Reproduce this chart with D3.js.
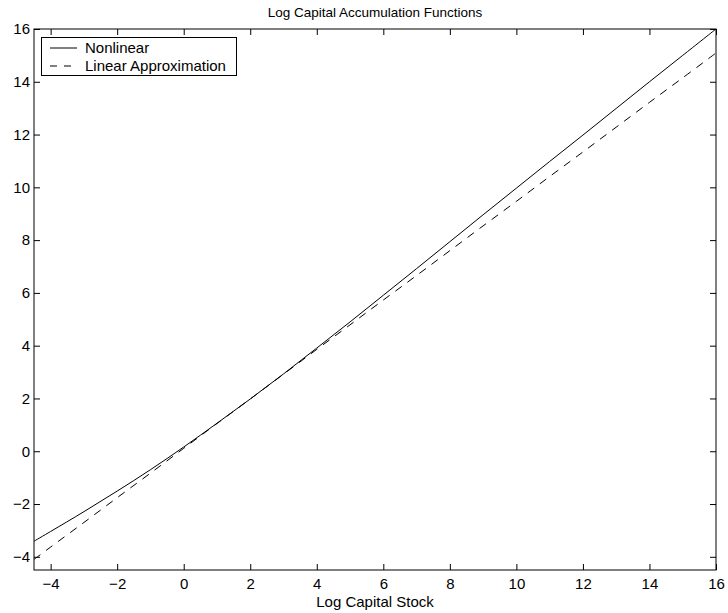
<!DOCTYPE html>
<html>
<head>
<meta charset="utf-8">
<script src="https://cdn.jsdelivr.net/npm/d3@7"></script>
<style>
  html, body { margin: 0; padding: 0; background: #fff; }
  svg { display: block; font-family: "Liberation Sans", Arial, Helvetica, sans-serif; }
</style>
</head>
<body>
<svg id="chart" width="728" height="613"></svg>
<script>
// ---- data ----
const logCapital = [-4.5, -4, -3, -2, -1, 0, 1, 2, 3, 4, 5, 6, 7, 8, 9, 10, 11, 12, 13, 14, 15, 16];
const nonlinear  = [-3.41, -3.04, -2.29, -1.51, -0.70, 0.16, 1.06, 1.98, 2.93, 3.91, 4.90, 5.91, 6.92, 7.94, 8.96, 9.97, 10.98, 11.98, 12.99, 14.00, 15.00, 16.00];
const linearApprox = [-4.10, -3.63, -2.70, -1.76, -0.83, 0.11, 1.05, 1.98, 2.92, 3.86, 4.79, 5.73, 6.66, 7.60, 8.54, 9.47, 10.41, 11.34, 12.28, 13.22, 14.15, 15.09];
const xTicks = [-4, -2, 0, 2, 4, 6, 8, 10, 12, 14, 16];
const yTicks = [-4, -2, 0, 2, 4, 6, 8, 10, 12, 14, 16];
const seriesNames = ["Nonlinear", "Linear Approximation"];
const titleText = "Log Capital Accumulation Functions";
const xLabelText = "Log Capital Stock";

// ---- layout ----
const svg = d3.select("#chart");
const L = 34, R = 716, T = 29, B = 570;
const x = d3.scaleLinear().domain([-4.5, 16]).range([L, R]);
const y = d3.scaleLinear().domain([-4.5, 16]).range([B, T]);
const tickLen = 6;
const fmt = d => d < 0 ? "\u2212" + Math.abs(d) : String(d);
const FONT = '"Liberation Sans", Arial, Helvetica, sans-serif';

// axes (ticks inward)
const gx = svg.append("g").attr("transform", `translate(0,${B})`)
  .call(d3.axisBottom(x).tickValues(xTicks).tickSizeInner(-tickLen).tickSizeOuter(0).tickPadding(8).tickFormat(fmt));
const gxt = svg.append("g").attr("transform", `translate(0,${T})`)
  .call(d3.axisTop(x).tickValues(xTicks).tickSizeInner(-tickLen).tickSizeOuter(0).tickFormat(""));
const gy = svg.append("g").attr("transform", `translate(${L},0)`)
  .call(d3.axisLeft(y).tickValues(yTicks).tickSizeInner(-tickLen).tickSizeOuter(0).tickPadding(4).tickFormat(fmt));
const gyr = svg.append("g").attr("transform", `translate(${R},0)`)
  .call(d3.axisRight(y).tickValues(yTicks).tickSizeInner(-tickLen).tickSizeOuter(0).tickFormat(""));
[gx, gxt, gy, gyr].forEach(g => {
  g.select(".domain").remove();
  g.selectAll(".tick line").attr("stroke", "#000").attr("stroke-width", 1);
  g.selectAll("text").attr("fill", "#000").style("font-size", "15px").style("font-family", FONT);
});

// lines
const lineGen = vals => d3.line()
  .x((d, i) => x(logCapital[i]))
  .y(d => y(d))
  .curve(d3.curveCatmullRom.alpha(0.5))(vals);

svg.append("clipPath").attr("id", "clip")
  .append("rect").attr("x", L).attr("y", T).attr("width", R - L).attr("height", B - T);

svg.append("path").attr("d", lineGen(nonlinear))
  .attr("fill", "none").attr("stroke", "#000").attr("stroke-width", 1)
  .attr("clip-path", "url(#clip)");
svg.append("path").attr("d", lineGen(linearApprox))
  .attr("fill", "none").attr("stroke", "#000").attr("stroke-width", 1)
  .attr("stroke-dasharray", "8,7")
  .attr("clip-path", "url(#clip)");

// frame
svg.append("rect").attr("x", L).attr("y", T).attr("width", R - L).attr("height", B - T)
  .attr("fill", "none").attr("stroke", "#000").attr("stroke-width", 1);

// title & label
svg.append("text").attr("x", (L + R) / 2).attr("y", 17).attr("text-anchor", "middle")
  .style("font-size", "13.5px").style("font-family", FONT).text(titleText);
svg.append("text").attr("x", (L + R) / 2).attr("y", 607).attr("text-anchor", "middle")
  .style("font-size", "15px").style("font-family", FONT).text(xLabelText);

// legend
const lg = svg.append("g");
lg.append("rect").attr("x", 41.5).attr("y", 37.5).attr("width", 195).attr("height", 38)
  .attr("fill", "#fff").attr("stroke", "#000").attr("stroke-width", 1);
const rows = [{ name: seriesNames[0], dash: null, yy: 48 }, { name: seriesNames[1], dash: "7,7", yy: 66 }];
rows.forEach(r => {
  lg.append("line").attr("x1", 50).attr("x2", 77).attr("y1", r.yy).attr("y2", r.yy)
    .attr("stroke", "#000").attr("stroke-width", 1)
    .attr("stroke-dasharray", r.dash);
  lg.append("text").attr("x", 85).attr("y", r.yy + 5).style("font-size", "15px")
    .style("font-family", FONT).text(r.name);
});
</script>
</body>
</html>
